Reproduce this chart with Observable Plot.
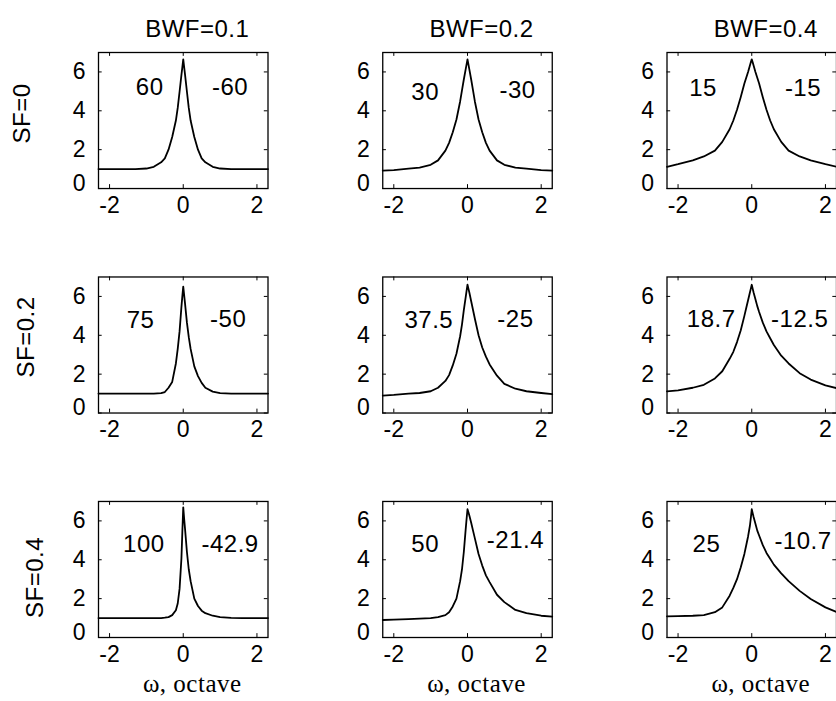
<!DOCTYPE html>
<html><head><meta charset="utf-8">
<script src="https://cdn.jsdelivr.net/npm/d3@7"></script>
<script src="https://cdn.jsdelivr.net/npm/@observablehq/plot@0.6"></script>
<style>
html,body{margin:0;padding:0;background:#fff;overflow:hidden;}
#chart svg g[aria-label="text"] text{letter-spacing:0.5px;}
</style></head><body><div id="chart"></div>
<script>
// Facet labels
const bwfLabels = ["BWF=0.1", "BWF=0.2", "BWF=0.4"];
const sfLabels = ["SF=0", "SF=0.2", "SF=0.4"];
const xTicks = [-2, 0, 2];
const yTicks = [0, 2, 4, 6];
const xLabel = "ω, octave";

// Frequency axis (octaves) at which the curves were read
const omega = [-2.3,-2,-1.6,-1.3,-1,-0.8,-0.6,-0.5,-0.4,-0.3,-0.2,-0.15,-0.1,-0.05,-0.025,0,0.025,0.05,0.1,0.15,0.2,0.3,0.4,0.5,0.6,0.8,1,1.3,1.6,2,2.3];

// Curves (row SF, column BWF)
const sf0_bwf01 = [1.0,1.0,1.0,1.0,1.03,1.12,1.35,1.55,2.0,2.65,3.5,4.15,4.98,5.84,6.24,6.65,6.24,5.84,4.98,4.15,3.5,2.65,2.0,1.55,1.35,1.12,1.03,1.0,1.0,1.0,1.0];
const sf0_bwf02 = [0.92,0.95,1.02,1.08,1.22,1.45,1.95,2.35,2.9,3.55,4.48,5.05,5.61,6.13,6.39,6.65,6.39,6.13,5.61,5.05,4.48,3.55,2.9,2.35,1.95,1.45,1.22,1.08,1.02,0.95,0.92];
const sf0_bwf04 = [1.12,1.25,1.45,1.65,1.95,2.4,3.05,3.5,4.05,4.7,5.4,5.7,6.0,6.33,6.5,6.65,6.5,6.33,6.0,5.7,5.4,4.7,4.05,3.5,3.05,2.4,1.95,1.65,1.45,1.25,1.12];
const sf02_bwf01 = [1.0,1.0,1.0,1.0,1.0,1.0,1.02,1.08,1.3,1.6,2.55,3.3,4.2,5.45,6.0,6.5,6.05,5.6,4.65,3.9,3.3,2.4,1.9,1.55,1.3,1.1,1.02,1.0,1.0,1.0,1.0];
const sf02_bwf02 = [0.9,0.93,1.0,1.03,1.12,1.3,1.65,1.95,2.45,3.05,3.95,4.55,5.3,5.95,6.28,6.6,6.4,6.2,5.75,5.3,4.85,4.0,3.37,2.9,2.5,1.92,1.5,1.25,1.12,1.03,0.97];
const sf02_bwf04 = [1.11,1.16,1.3,1.45,1.78,2.15,2.79,3.15,3.65,4.25,5.0,5.4,5.8,6.2,6.4,6.6,6.4,6.2,5.85,5.5,5.2,4.65,4.2,3.85,3.5,2.95,2.55,2.05,1.72,1.42,1.28];
const sf04_bwf01 = [1.0,1.0,1.0,1.0,1.0,1.0,1.0,1.02,1.05,1.15,1.4,1.75,2.5,4.05,5.4,6.7,6.1,5.55,4.4,3.5,2.9,2.0,1.62,1.38,1.25,1.12,1.05,1.01,1.0,1.0,1.0];
const sf04_bwf02 = [0.9,0.92,0.95,0.97,1.0,1.05,1.15,1.3,1.6,2.0,2.9,3.5,4.4,5.55,6.1,6.6,6.45,6.28,5.9,5.5,5.1,4.3,3.7,3.2,2.85,2.2,1.82,1.42,1.25,1.12,1.07];
const sf04_bwf04 = [1.09,1.1,1.12,1.15,1.3,1.55,2.15,2.55,3.0,3.6,4.3,4.75,5.2,5.75,6.15,6.6,6.4,6.2,5.85,5.5,5.25,4.75,4.35,4.05,3.75,3.3,2.9,2.4,1.98,1.55,1.31];

// Slope annotations (left / right of the peak)
const leftSlopes  = [["60", "30", "15"], ["75", "37.5", "18.7"], ["100", "50", "25"]];
const rightSlopes = [["-60", "-30", "-15"], ["-50", "-25", "-12.5"], ["-42.9", "-21.4", "-10.7"]];

// Annotation placement (data units)
const leftNoteX  = [[-0.91, -1.15, -1.32], [-1.16, -1.05, -1.1], [-1.07, -1.15, -1.23]];
const rightNoteX = [[1.27, 1.36, 1.39], [1.22, 1.3, 1.3], [1.27, 1.3, 1.39]];
const leftNoteY  = [[5.2, 4.96, 5.16], [4.75, 4.75, 4.8], [4.8, 4.8, 4.8]];
const rightNoteY = [[5.2, 5.08, 5.16], [4.8, 4.8, 4.8], [4.8, 5.0, 4.95]];

const responses = [
  [sf0_bwf01, sf0_bwf02, sf0_bwf04],
  [sf02_bwf01, sf02_bwf02, sf02_bwf04],
  [sf04_bwf01, sf04_bwf02, sf04_bwf04]
];

const curveRows = [];
const notes = [];
sfLabels.forEach((sf, i) => bwfLabels.forEach((bwf, j) => {
  responses[i][j].forEach((v, k) => curveRows.push({sf, bwf, x: omega[k], y: v}));
  notes.push({sf, bwf, text: leftSlopes[i][j], x: leftNoteX[i][j], y: leftNoteY[i][j]});
  notes.push({sf, bwf, text: rightSlopes[i][j], x: rightNoteX[i][j], y: rightNoteY[i][j]});
}));

const sans = "'Liberation Sans', Arial, Helvetica, sans-serif";
const serif = "'Liberation Serif', 'Times New Roman', serif";
const plain = d => String(d);

const chart = Plot.plot({
  width: 836,
  height: 701,
  marginLeft: 98,
  marginRight: 0,
  marginTop: 52,
  marginBottom: 64,
  style: {fontFamily: sans, fontSize: "24px", color: "black", background: "white", overflow: "visible"},
  fx: {domain: bwfLabels, axis: null, paddingInner: 0.4037, paddingOuter: 0, round: false},
  fy: {domain: sfLabels, axis: null, paddingInner: 0.394, paddingOuter: 0, round: false},
  x: {domain: [-2.3, 2.3]},
  y: {domain: [0, 7]},
  marks: [
    Plot.line(curveRows, {x: "x", y: "y", fx: "bwf", fy: "sf", stroke: "black", strokeWidth: 1.8}),
    Plot.frame({stroke: "black", strokeWidth: 1.3}),
    Plot.ruleX(xTicks, {x: d => d, y1: 0, y2: 0.2, stroke: "black"}),
    Plot.ruleX(xTicks, {x: d => d, y1: 6.8, y2: 7, stroke: "black"}),
    Plot.ruleY(yTicks, {y: d => d, x1: -2.3, x2: -2.2, stroke: "black"}),
    Plot.ruleY(yTicks, {y: d => d, x1: 2.2, x2: 2.3, stroke: "black"}),
    Plot.axisX(xTicks, {anchor: "bottom", tickSize: 0, tickPadding: 8, label: null, facetAnchor: null, fontSize: 23, tickFormat: plain}),
    Plot.axisY(yTicks.filter(t => t !== 0), {anchor: "left", tickSize: 0, tickPadding: 13, label: null, facetAnchor: null, fontSize: 23, tickFormat: plain}),
    Plot.axisY([0], {anchor: "left", tickSize: 0, tickPadding: 13, label: null, facetAnchor: null, fontSize: 23, dy: -5, tickFormat: plain}),
    Plot.text(notes, {x: "x", y: "y", fx: "bwf", fy: "sf", text: "text", fontSize: 24, fill: "black"}),
    Plot.text(bwfLabels, {fx: d => d, fy: () => sfLabels[0], text: d => d, frameAnchor: "top", lineAnchor: "middle", dy: -23, dx: 14, fontSize: 24, fill: "black"}),
    Plot.text([sfLabels[0]], {fy: d => d, fx: () => bwfLabels[0], text: d => d, frameAnchor: "left", textAnchor: "middle", lineAnchor: "middle", rotate: -90, dx: -76, dy: -7, fontSize: 24, fill: "black"}),
    Plot.text([sfLabels[1]], {fy: d => d, fx: () => bwfLabels[0], text: d => d, frameAnchor: "left", textAnchor: "middle", lineAnchor: "middle", rotate: -90, dx: -72, dy: -8, fontSize: 24, fill: "black"}),
    Plot.text([sfLabels[2]], {fy: d => d, fx: () => bwfLabels[0], text: d => d, frameAnchor: "left", textAnchor: "middle", lineAnchor: "middle", rotate: -90, dx: -63, dy: 8, fontSize: 24, fill: "black"}),
    Plot.text(bwfLabels, {fx: d => d, fy: () => sfLabels[2], text: () => xLabel, frameAnchor: "bottom", lineAnchor: "middle", dy: 46, dx: 9, fontSize: 25, fontFamily: serif, fill: "black"})
  ]
});
document.getElementById("chart").appendChild(chart);
</script></body></html>
